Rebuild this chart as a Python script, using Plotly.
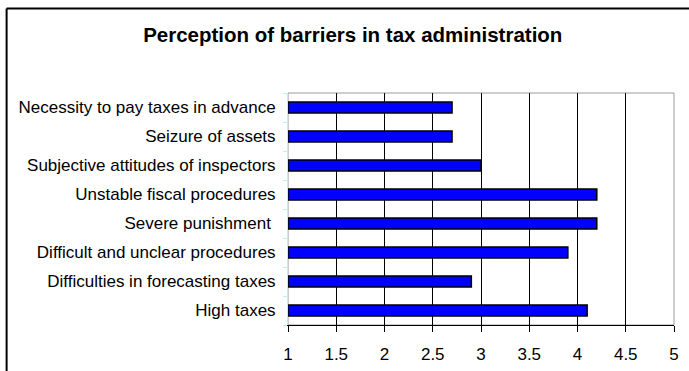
import plotly.graph_objects as go

# Barrier categories (bottom to top) and mean perception scores
barriers = [
    "High taxes",
    "Difficulties in forecasting taxes",
    "Difficult and unclear procedures",
    "Severe punishment\u00a0",
    "Unstable fiscal procedures",
    "Subjective attitudes of inspectors",
    "Seizure of assets",
    "Necessity to pay taxes in advance",
]
scores = [4.1, 2.9, 3.9, 4.2, 4.2, 3.0, 2.7, 2.7]
x_ticks = [1, 1.5, 2, 2.5, 3, 3.5, 4, 4.5, 5]
x_tick_labels = ["1", "1.5", "2", "2.5", "3", "3.5", "4", "4.5", "5"]

AXIS_MIN = 1
FONT = "Liberation Sans, Arial, sans-serif"

# Bars start at the axis minimum, so their lengths are score - AXIS_MIN
fig = go.Figure(
    go.Bar(
        x=[s - AXIS_MIN for s in scores],
        y=barriers,
        base=AXIS_MIN,
        orientation="h",
        width=0.38,
        marker=dict(color="#0000FF", line=dict(color="#000000", width=1.5)),
        customdata=scores,
        hovertemplate="%{y}: %{customdata}<extra></extra>",
    )
)

fig.update_layout(
    width=689,
    height=371,
    margin=dict(l=288, r=15, t=93, b=46),
    paper_bgcolor="white",
    plot_bgcolor="white",
    showlegend=False,
    title=dict(
        text="<b>Perception of barriers in tax administration</b>",
        font=dict(family=FONT, size=20.5, color="#000000"),
        x=0.512,
        xanchor="center",
        yref="container",
        y=0.906,
        yanchor="middle",
    ),
    xaxis=dict(
        range=[1, 5],
        tickvals=x_ticks,
        ticktext=x_tick_labels,
        showgrid=True,
        gridcolor="#000000",
        gridwidth=1,
        showline=True,
        linecolor="#000000",
        linewidth=1,
        ticks="outside",
        ticklen=6,
        tickcolor="#000000",
        ticklabelstandoff=8,
        tickfont=dict(family=FONT, size=17, color="#000000"),
        zeroline=False,
        automargin=False,
        fixedrange=True,
    ),
    yaxis=dict(
        categoryorder="array",
        categoryarray=barriers,
        showline=True,
        linecolor="#bfeeee",
        linewidth=1,
        ticks="outside",
        ticklen=4,
        tickcolor="#bfeeee",
        tickson="boundaries",
        ticklabelstandoff=8,
        tickfont=dict(family=FONT, size=17, color="#000000"),
        showgrid=False,
        automargin=False,
        fixedrange=True,
    ),
    shapes=[
        # plot area frame (top and right edges)
        dict(type="rect", xref="x domain", yref="y domain", x0=0, x1=1, y0=0, y1=1,
             line=dict(color="#9a9a9a", width=1), layer="below"),
        # outer chart frame, running past the right and bottom page edges
        dict(type="line", xref="paper", yref="paper", x0=-0.729, x1=1.045, y0=1.364, y1=1.364,
             line=dict(color="#000000", width=2)),
        dict(type="line", xref="paper", yref="paper", x0=-0.729, x1=-0.729, y0=-0.3, y1=1.364,
             line=dict(color="#000000", width=2)),
    ],
)

fig.write_html("out.html", config={"displayModeBar": False})
